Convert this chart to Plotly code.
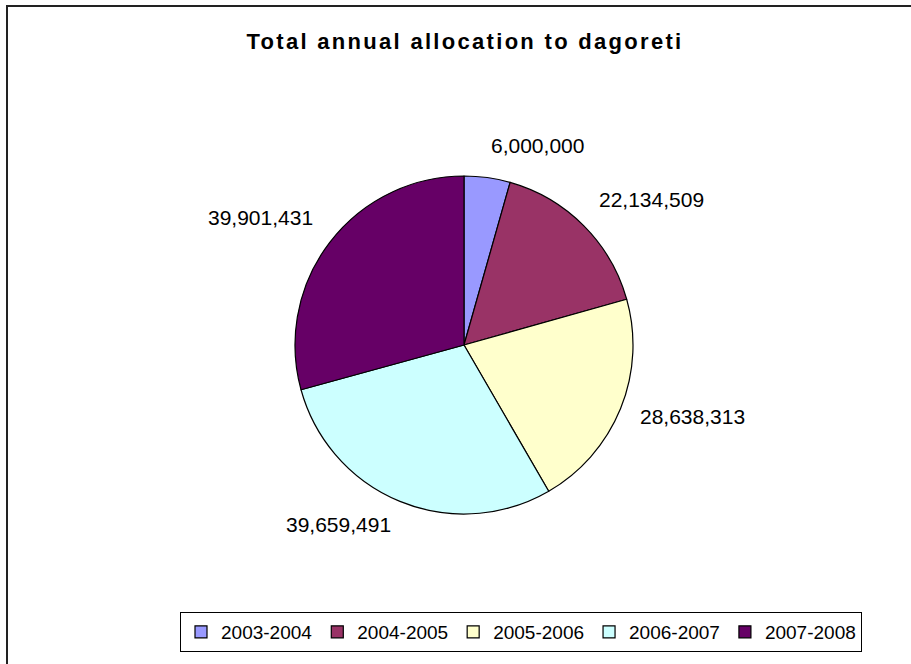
import math
import plotly.graph_objects as go

# ---- data ----
periods = ["2003-2004", "2004-2005", "2005-2006", "2006-2007", "2007-2008"]
allocations = [6000000, 22134509, 28638313, 39659491, 39901431]
slice_colors = ["#9999FF", "#993366", "#FFFFCC", "#CCFFFF", "#660066"]
title_text = "Total annual allocation to dagoreti"

W, H = 911, 664
FONT = "Liberation Sans, Arial, sans-serif"

cx, cy, r = 464, 345, 169
label_r = 189

fig = go.Figure(
    go.Pie(
        labels=periods,
        values=allocations,
        sort=False,
        direction="clockwise",
        rotation=0,
        marker=dict(colors=slice_colors, line=dict(color="#000000", width=1.2)),
        textinfo="none",
        domain=dict(x=[(cx - r) / W, (cx + r) / W], y=[1 - (cy + r) / H, 1 - (cy - r) / H]),
        hoverinfo="label+value",
    )
)

# value labels placed outside the slices, Excel style, from slice mid-angles
total = sum(allocations)
annotations = []
cum = 0.0
for v in allocations:
    mid = (cum + v / 2) / total * 2 * math.pi
    cum += v
    s, c = math.sin(mid), math.cos(mid)
    px = cx + label_r * s
    py = cy - label_r * c
    xa = "left" if s >= 0 else "right"
    ya = "bottom" if c > 0.5 else ("top" if c < -0.5 else "middle")
    annotations.append(
        dict(
            x=px / W,
            y=1 - py / H,
            xref="paper",
            yref="paper",
            text=f"{v:,}",
            showarrow=False,
            xanchor=xa,
            yanchor=ya,
            yshift=8 if ya == "top" else 0,
            borderpad=0,
            font=dict(family=FONT, size=21, color="#000000"),
        )
    )

fig.update_layout(
    width=W,
    height=H,
    margin=dict(l=0, r=0, t=0, b=0),
    paper_bgcolor="white",
    plot_bgcolor="white",
    title=dict(
        text="<b>" + title_text + "</b>",
        x=465 / W,
        xanchor="center",
        y=1 - 41 / H,
        yanchor="middle",
        font=dict(family=FONT, size=22, color="#000000"),
    ),
    legend=dict(
        orientation="h",
        x=521 / W,
        xanchor="center",
        y=1 - 632 / H,
        yanchor="middle",
        bordercolor="#000000",
        borderwidth=1,
        font=dict(family=FONT, size=19, color="#000000"),
        itemwidth=30,
        traceorder="normal",
    ),
    showlegend=True,
    annotations=annotations,
    shapes=[
        dict(
            type="rect",
            xref="paper",
            yref="paper",
            x0=7 / W,
            x1=1.3,
            y0=-0.3,
            y1=1 - 6 / H,
            line=dict(color="#222222", width=2),
            fillcolor="rgba(0,0,0,0)",
            layer="above",
        )
    ],
)

post = """
document.querySelectorAll('.gtitle').forEach(function(e){e.style.letterSpacing='2.3px';});
"""

fig.write_html("out.html", post_script=post)
